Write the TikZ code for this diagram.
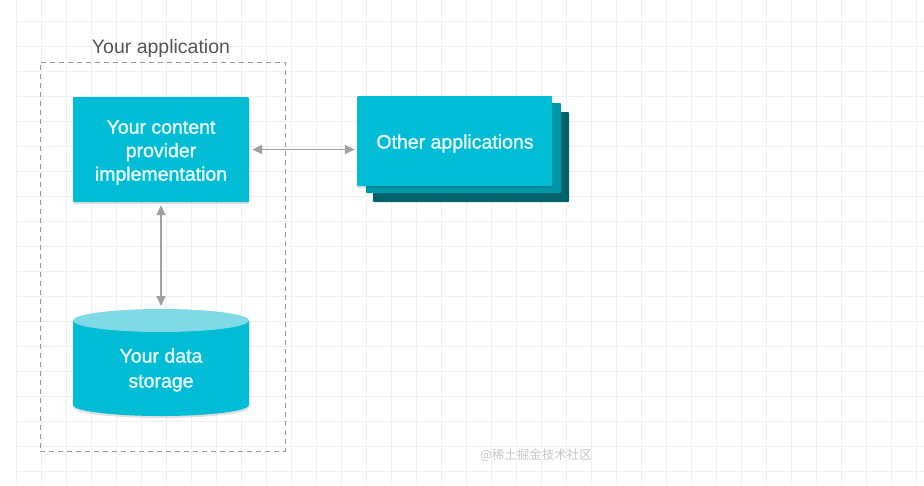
\documentclass[tikz,border=0pt]{standalone}
\usepackage{fontspec}
\setmainfont{Liberation Sans}
\newfontfamily\medfont{Liberation Sans}[FakeBold=1.6]
\newfontfamily\cjk{Noto Sans CJK SC}
\usetikzlibrary{arrows.meta,calc}
\definecolor{gridc}{HTML}{F0F0F0}
\definecolor{cyanA}{HTML}{00BCD4}
\definecolor{cyanB}{HTML}{0097A7}
\definecolor{cyanC}{HTML}{00626B}
\definecolor{cyanTop}{HTML}{7FD9E6}
\definecolor{txtw}{HTML}{E4F8FB}
\definecolor{arrowc}{HTML}{A0A0A0}
\definecolor{dashc}{HTML}{9A9A9A}
\definecolor{titlec}{HTML}{555555}
\tikzset{
  boxA/.style={fill=cyanA, draw=none, rounded corners=1pt, text=txtw, align=center,
    font=\medfont\fontsize{19.5}{23.5}\selectfont, inner sep=0pt},
  txtonly/.style={text=txtw, align=center, inner sep=0pt, font=\medfont\fontsize{19.5}{25}\selectfont},
  layer/.style={draw=none, rounded corners=1pt},
  conn/.style={draw=arrowc, line width=1.8pt, {Triangle[length=10pt,width=9pt]}-{Triangle[length=10pt,width=9pt]}},
  shadowc/.style={fill=black, opacity=0.12, draw=none, rounded corners=1pt}
}
\begin{document}
\begin{tikzpicture}[x=1pt,y=-1pt]
\useasboundingbox (0,0) rectangle (924,485);
\fill[white] (0,0) rectangle (924,485);
% grid
\foreach \gx in {16,41,...,916} \draw[gridc, line width=1pt] (\gx,0) -- (\gx,485);
\foreach \gy in {21,46,...,471} \draw[gridc, line width=1pt] (16,\gy) -- (924,\gy);

% application frame
\node[draw=dashc, dash pattern=on 5pt off 4pt, line width=1pt, minimum width=245pt, minimum height=389pt, inner sep=0pt] (app) at (162.5,256.5) {};
\node[text=titlec, font=\fontsize{19.5}{23}\selectfont] (apptitle) at (161,48) {Your application};

% provider box
\fill[shadowc] (73,99) rectangle (249,204);
\node[boxA, minimum width=176pt, minimum height=105pt] (prov) at (161,149.5) {};
\node[txtonly, font=\medfont\fontsize{19.5}{23.5}\selectfont] (provtxt) at (161,152.5) {Your content\\provider\\implementation};

% other applications stack
\fill[layer, fill=cyanC] (373,112) rectangle (569,202);
\fill[layer, fill=cyanB] (366,103) rectangle (561,193);
\fill[shadowc] (357,98) rectangle (552,188);
\node[boxA, minimum width=195pt, minimum height=90pt] (other) at (454.5,141) {};
\node[txtonly] (othertxt) at (455,143.5) {Other applications};

% data storage cylinder
\fill[shadowc] (73,322) -- (73,407) arc[start angle=180, end angle=360, x radius=88pt, y radius=11pt] -- (249,322) -- cycle;
\fill[cyanA] (73,320.5) -- (73,405) arc[start angle=180, end angle=360, x radius=88pt, y radius=11pt] -- (249,320.5) -- cycle;
\fill[cyanTop] (161,320.5) ellipse[x radius=88pt, y radius=11.5pt];
\coordinate (storetop) at (161,309);
\node[txtonly] (store) at (161,370) {Your data\\storage};

% connectors
\draw[conn] (prov.east) ++(3,0) coordinate (pe) -- ($(pe -| other.west)+(-2,0)$);
\draw[conn] ($(prov.south)+(0,3)$) -- ($(storetop)+(0,-3)$);

% watermark
\node[text=black!22, font=\cjk\fontsize{12.5}{14}\selectfont] (wm) at (536,455) {@稀土掘金技术社区};
\end{tikzpicture}
\end{document}
